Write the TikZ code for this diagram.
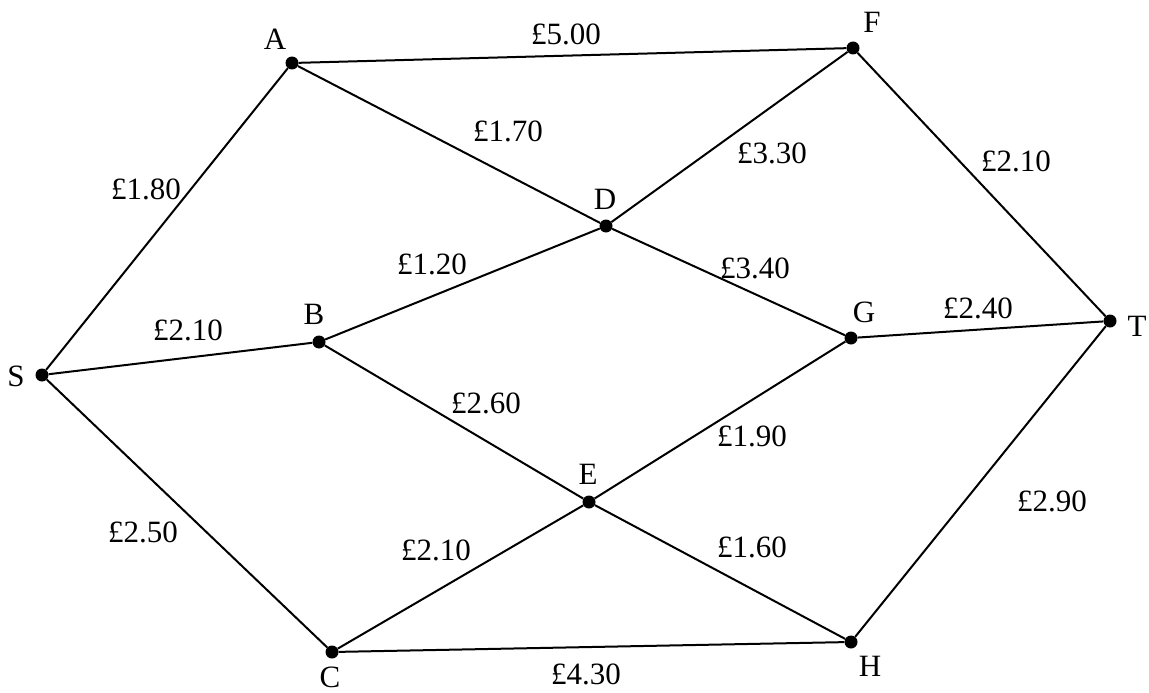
\documentclass[tikz,border=0pt]{standalone}
\usepackage{fontspec}
\setmainfont{Liberation Serif}
\usetikzlibrary{positioning}
\tikzset{pt/.style={circle,fill=black,inner sep=0pt,minimum size=13pt},
 edge/.style={line width=2pt},
 lab/.style={font=\fontsize{31}{34}\selectfont,inner sep=0pt},
 cost/.style={lab}}
\begin{document}
\begin{tikzpicture}[x=1pt,y=-1pt]
\useasboundingbox (0,0) rectangle (1149,693);
% vertices
\node[pt] (S) at (42,375) {};\node[pt] (A) at (292,63) {};\node[pt] (F) at (853,48) {};
\node[pt] (D) at (606,226) {};\node[pt] (B) at (319,342) {};\node[pt] (G) at (851,338) {};
\node[pt] (T) at (1110,321) {};\node[pt] (E) at (589,502) {};\node[pt] (C) at (332,652) {};
\node[pt] (H) at (851,642) {};
% vertex names
\node[lab] at (16,376) {S};\node[lab] at (275,39) {A};\node[lab] at (872,22) {F};
\node[lab] at (605,199) {D};\node[lab] at (314,314) {B};\node[lab] at (864,312) {G};
\node[lab] at (1137,326) {T};\node[lab] at (588,474) {E};\node[lab] at (330,677) {C};
\node[lab] at (870,666) {H};
% edges
\foreach \u/\v in {S/A,S/B,S/C,A/F,A/D,F/D,F/T,B/D,B/E,D/G,G/T,G/E,C/E,C/H,E/H,H/T}
 \draw[edge] (\u)--(\v);
% costs
\node[cost] at (566,34) {£5.00};\node[cost] at (508,131) {£1.70};
\node[cost] at (772,153) {£3.30};\node[cost] at (1016,161) {£2.10};
\node[cost] at (146,189) {£1.80};\node[cost] at (432,264) {£1.20};
\node[cost] at (755,268) {£3.40};\node[cost] at (978,308) {£2.40};
\node[cost] at (188,330) {£2.10};\node[cost] at (486,403) {£2.60};
\node[cost] at (752,436) {£1.90};\node[cost] at (1052,501) {£2.90};
\node[cost] at (143,532) {£2.50};\node[cost] at (436,550) {£2.10};
\node[cost] at (752,547) {£1.60};\node[cost] at (586,674) {£4.30};
\end{tikzpicture}
\end{document}
